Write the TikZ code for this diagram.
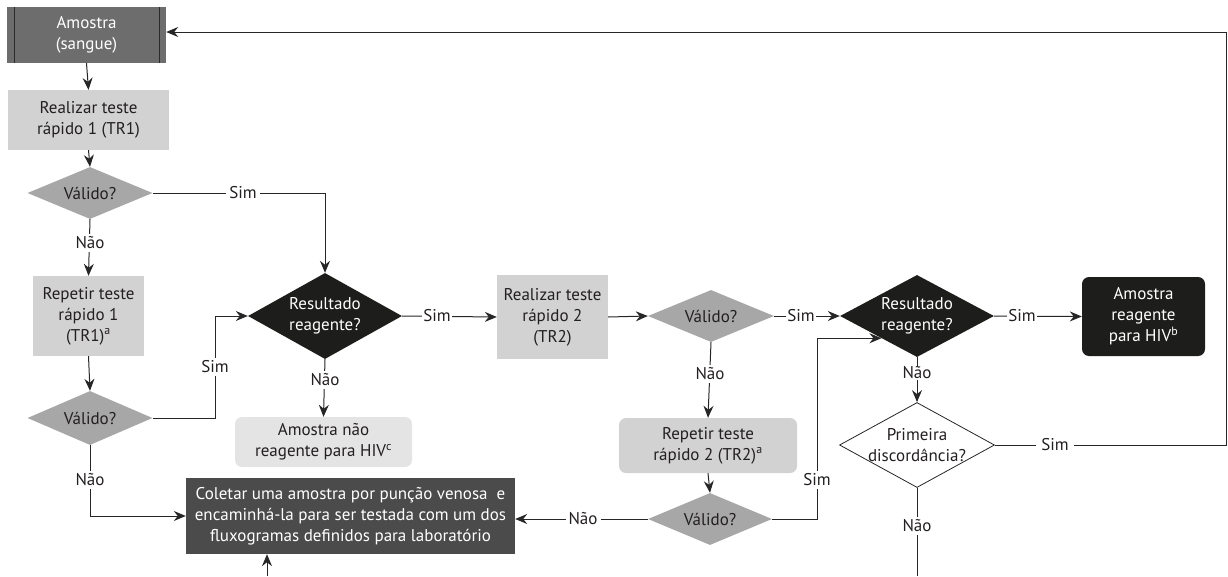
\documentclass[tikz,border=0pt]{standalone}
\usepackage{fontspec}
\setmainfont{PT Sans}
\usetikzlibrary{shapes.geometric,arrows.meta}
\definecolor{linec}{HTML}{262626}
\definecolor{txt}{HTML}{231F20}
\definecolor{amfill}{HTML}{6D6D6D}
\definecolor{amline}{HTML}{2B2B2B}
\definecolor{lgray}{HTML}{D2D2D2}
\definecolor{dgray}{HTML}{A7A7A7}
\definecolor{blk}{HTML}{1D1D1B}
\definecolor{vlgray}{HTML}{E4E4E4}
\definecolor{colfill}{HTML}{4B4B4B}
\begin{document}
\begin{tikzpicture}[x=1pt,y=-1pt,
  font=\fontsize{17}{21}\selectfont, text=txt,
  box/.style={rectangle, inner sep=0pt, align=center},
  dia/.style={diamond, inner sep=0pt},
  conn/.style={draw=linec, line width=1pt, -{Stealth[length=12pt,width=10pt,inset=4pt]}},
  plain/.style={draw=linec, line width=1pt},
  lbl/.style={fill=white, inner sep=3pt, text=txt}
]
\useasboundingbox (0,0) rectangle (1228,576);

% nodes
\node[box, fill=amfill, text=white, minimum width=159pt, minimum height=56pt] (amostra) at (86.5,35) {Amostra\\(sangue)};
\draw[amline, line width=1.2pt] ([xshift=8pt]amostra.north west) -- ([xshift=8pt]amostra.south west);
\draw[amline, line width=1.2pt] ([xshift=-7pt]amostra.north east) -- ([xshift=-7pt]amostra.south east);

\node[box, fill=lgray, minimum width=161pt, minimum height=60pt] (tr1) at (88.5,120) {Realizar teste\\rápido 1 (TR1)};

\node[dia, fill=dgray, minimum width=125pt, minimum height=52pt, label={center:Válido?}] (d1) at (90,193) {};

\node[box, fill=lgray, minimum width=111pt, minimum height=80pt] (rep1) at (88.5,316) {Repetir teste\\rápido 1\\(TR1)\textsuperscript{a}};

\node[dia, fill=dgray, minimum width=125pt, minimum height=54pt, label={center:Válido?}] (d2) at (90,418) {};

\node[dia, fill=blk, minimum width=154pt, minimum height=86pt, label={[align=center,text=white]center:Resultado\\reagente?}] (res1) at (325,316) {};

\node[box, fill=vlgray, rounded corners=7pt, minimum width=177pt, minimum height=50pt] (naoreag) at (323.5,442) {Amostra não\\reagente para HIV\textsuperscript{c}};

\node[box, fill=colfill, text=white, minimum width=329pt, minimum height=76pt] (coletar) at (350.5,516) {Coletar uma amostra por punção venosa \ e\\encaminhá-la para ser testada com um dos\\fluxogramas definidos para laboratório};

\node[box, fill=lgray, minimum width=111pt, minimum height=84pt] (tr2) at (552.5,317) {Realizar teste\\rápido 2\\(TR2)};

\node[dia, fill=dgray, minimum width=126pt, minimum height=52pt, label={center:Válido?}] (d3) at (711,316) {};

\node[box, fill=lgray, rounded corners=7pt, minimum width=178pt, minimum height=55pt] (rep2) at (708,445.5) {Repetir teste\\rápido 2 (TR2)\textsuperscript{a}};

\node[dia, fill=dgray, minimum width=124pt, minimum height=52pt, label={center:Válido?}] (d4) at (710,519) {};

\node[dia, fill=blk, minimum width=154pt, minimum height=82pt, label={[align=center,text=white]center:Resultado\\reagente?}] (res2) at (917,316) {};

\node[box, fill=blk, text=white, rounded corners=7pt, minimum width=123pt, minimum height=79pt] (reag) at (1143.5,316.5) {Amostra\\reagente\\para HIV\textsuperscript{b}};

\node[dia, fill=white, draw=linec, line width=0.8pt, minimum width=155pt, minimum height=85pt, label={[align=center]center:Primeira\\discordância?}] (prim) at (917,445) {};

% free ends
\coordinate (rtop) at (1226,32);
\coordinate (cin) at (267,576);
\coordinate (pout) at (917,576);

% connectors
\draw[conn] (amostra.south) -- (tr1.north);
\draw[conn] (tr1.south) -- (d1.north);
\draw[conn] (d1.east) -| (res1.north);
\draw[conn] (d1.south) -- (rep1.north);
\draw[conn] (rep1.south) -- (d2.north);
\draw[conn] (d2.east) -- ++(62.5,0) |- (res1.west);
\draw[conn] (d2.south) |- (coletar.west);
\draw[conn] (res1.east) -- (tr2.west);
\draw[conn] (res1.south) -- (naoreag.north);
\draw[conn] (tr2.east) -- (d3.west);
\draw[conn] (d3.east) -- (res2.west);
\draw[conn] (d3.south) -- (rep2.north);
\draw[conn] (rep2.south) -- (d4.north);
\draw[conn] (d4.west) -- (coletar.east |- d4.west);
\draw[conn] (d4.east) -- ++(45,0) |- (res2.212);
\draw[conn] (res2.east) -- (reag.west);
\draw[conn] (res2.south) -- (prim.north);
\draw[conn] (prim.east) -| (rtop) -- ([yshift=3pt]amostra.east);
\draw[plain] (prim.south) -- (pout);
\draw[conn] (cin) -- (cin |- coletar.south);

% labels
\node[lbl] (l1) at (243,193) {Sim};
\node[lbl] (l2) at (90,243) {Não};
\node[lbl] (l3) at (215,367) {Sim};
\node[lbl] (l4) at (90,480) {Não};
\node[lbl, inner sep=1.5pt] (l5) at (437,316) {Sim};
\node[lbl] (l6) at (325,380) {Não};
\node[lbl, inner sep=1.5pt] (l7) at (801,316) {Sim};
\node[lbl] (l8) at (710,374) {Não};
\node[lbl] (l9) at (583,519) {Não};
\node[lbl] (l10) at (817,480) {Sim};
\node[lbl, inner sep=1.5pt] (l11) at (1022,316) {Sim};
\node[lbl, inner sep=1pt] (l12) at (917,373) {Não};
\node[lbl, inner sep=5pt] (l13) at (1055,445) {Sim};
\node[lbl] (l14) at (917,526) {Não};
\end{tikzpicture}
\end{document}
